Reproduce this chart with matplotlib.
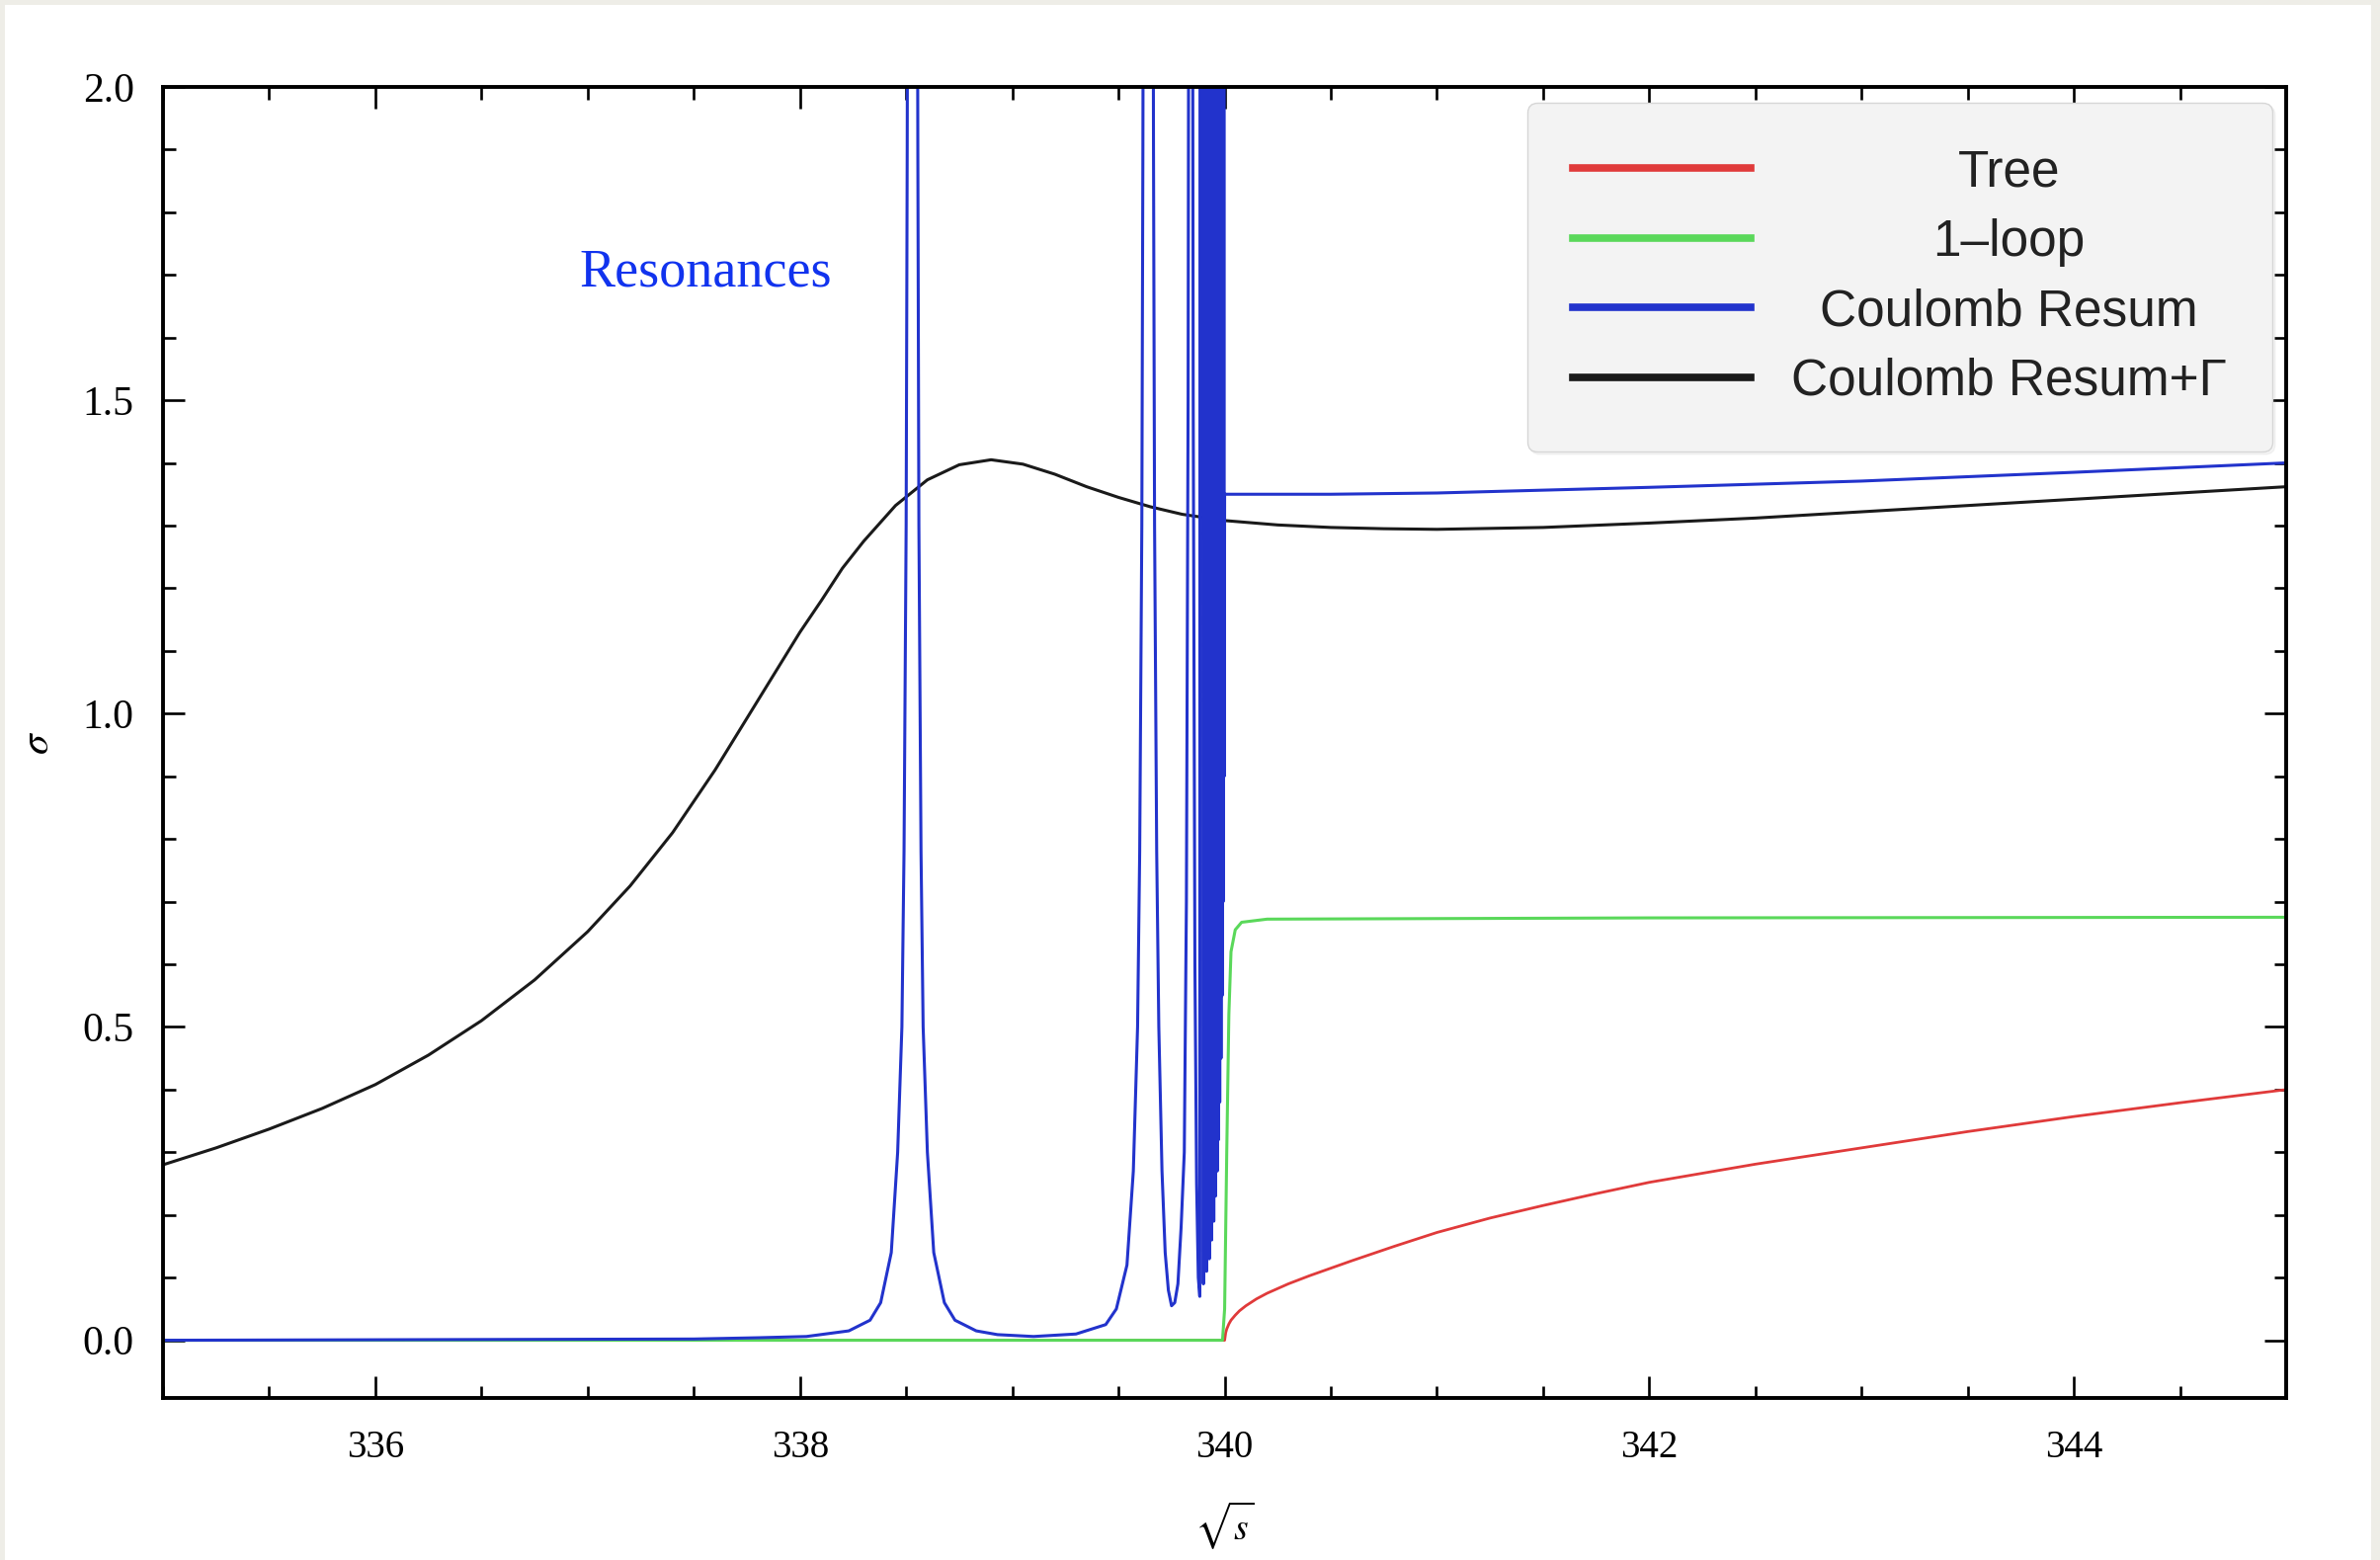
import matplotlib
matplotlib.use("Agg")
import matplotlib.pyplot as plt
from matplotlib.patches import Rectangle
from matplotlib.ticker import MultipleLocator

# sqrt(s) grid and cross sections
tree_x = [335.0, 340.0, 340.005, 340.01, 340.02, 340.03, 340.05, 340.07, 340.1, 340.15, 340.2,
          340.3, 340.4, 340.5, 340.6, 340.8, 341.0, 341.25, 341.5, 341.75, 342.0, 342.5,
          343.0, 343.5, 344.0, 344.5, 345.0]
tree_y = [0.0, 0.0, 0.012, 0.018, 0.026, 0.032, 0.04, 0.047, 0.055, 0.066, 0.075,
          0.09, 0.103, 0.115, 0.127, 0.15, 0.172, 0.195, 0.215, 0.234, 0.252, 0.281,
          0.307, 0.333, 0.357, 0.379, 0.40]

loop_x = [335.0, 339.99, 340.0, 340.01, 340.02, 340.03, 340.05, 340.08, 340.2, 342.0, 345.0]
loop_y = [0.0, 0.0, 0.05, 0.3, 0.52, 0.62, 0.655, 0.667, 0.672, 0.674, 0.675]

resum_x = [335.0, 337.5, 337.8, 338.03, 338.23, 338.33, 338.38, 338.43, 338.46, 338.48, 338.49,
           338.50, 338.505, 338.51, 338.52, 338.53, 338.54, 338.55, 338.555, 338.56, 338.57,
           338.58, 338.60, 338.63, 338.68, 338.73, 338.83, 338.93, 339.1, 339.3, 339.44,
           339.49, 339.54, 339.57, 339.59, 339.60, 339.61, 339.615, 339.62, 339.63, 339.64,
           339.65, 339.66, 339.665, 339.67, 339.68, 339.69, 339.705, 339.72, 339.735, 339.75,
           339.765, 339.78, 339.795, 339.81, 339.82, 339.828, 339.834, 339.84, 339.846,
           339.852, 339.86, 339.868, 339.876, 339.883,
           339.893, 339.900, 339.908, 339.915, 339.922, 339.928, 339.934, 339.939, 339.944,
           339.949, 339.953, 339.957, 339.961, 339.965, 339.968, 339.971, 339.974, 339.977,
           339.980, 339.983, 339.986, 339.988, 339.991, 339.993, 339.996, 339.998, 340.0,
           340.5, 341.0, 342.0, 343.0, 344.0, 345.0]
resum_y = [0.0, 0.002, 0.004, 0.006, 0.015, 0.032, 0.06, 0.14, 0.3, 0.5, 0.78,
           1.3, 1.9, 2.8, 8.0, 20.0, 8.0, 2.8, 1.9, 1.3, 0.78,
           0.5, 0.3, 0.14, 0.06, 0.032, 0.015, 0.009, 0.006, 0.01, 0.025,
           0.05, 0.12, 0.27, 0.5, 0.78, 1.3, 1.9, 2.8, 8.0, 20.0,
           8.0, 2.8, 1.9, 1.3, 0.78, 0.5, 0.27, 0.14, 0.08, 0.055,
           0.06, 0.09, 0.18, 0.3, 0.7, 1.5, 3.0, 20.0, 3.0,
           1.5, 0.6, 0.25, 0.1, 0.07,
           20.0, 0.09, 20.0, 0.11, 20.0, 0.13, 20.0, 0.16, 20.0,
           0.19, 20.0, 0.23, 20.0, 0.27, 20.0, 0.32, 20.0, 0.38,
           20.0, 0.45, 20.0, 0.55, 20.0, 0.7, 20.0, 0.9, 1.35,
           1.35, 1.352, 1.361, 1.371, 1.385, 1.40]

width_x = [335.0, 335.25, 335.5, 335.75, 336.0, 336.25, 336.5, 336.75, 337.0, 337.2, 337.4,
           337.6, 337.8, 337.9, 338.0, 338.1, 338.2, 338.3, 338.45, 338.6, 338.75, 338.9,
           339.05, 339.2, 339.35, 339.5, 339.65, 339.8, 340.0, 340.25, 340.5, 340.75, 341.0,
           341.5, 342.0, 342.5, 343.0, 343.5, 344.0, 344.5, 345.0]
width_y = [0.28, 0.307, 0.337, 0.37, 0.408, 0.455, 0.51, 0.575, 0.652, 0.725, 0.81,
           0.91, 1.02, 1.075, 1.13, 1.18, 1.232, 1.275, 1.332, 1.373, 1.397, 1.405,
           1.398, 1.382, 1.362, 1.345, 1.33, 1.318, 1.308, 1.301, 1.297, 1.295, 1.294,
           1.297, 1.304, 1.312, 1.322, 1.332, 1.342, 1.352, 1.362]

labels = ["Tree", "1\u2013loop", "Coulomb Resum", "Coulomb Resum+\u0393"]
colors = ["#e03a3a", "#5ad85a", "#2233cc", "#1a1a1a"]

plt.rcParams['mathtext.fontset'] = 'stix'

fig = plt.figure(figsize=(24.09, 15.79), dpi=100)
fig.patch.set_facecolor("#eeede7")
fig.patches.append(Rectangle((5 / 2409, 0), 2395 / 2409, 1 - 5 / 1579,
                             transform=fig.transFigure, facecolor="white",
                             edgecolor="none", zorder=-10))

ax = fig.add_axes([0.0685, 0.1039, 0.8921, 0.8404])
ax.set_facecolor("white")

l_black, = ax.plot(width_x, width_y, color=colors[3], lw=2.2)
l_red, = ax.plot(tree_x, tree_y, color=colors[0], lw=2.0)
l_green, = ax.plot(loop_x, loop_y, color=colors[1], lw=2.2)
l_blue, = ax.plot(resum_x, resum_y, color=colors[2], lw=2.2)

ax.set_xlim(335, 345)
ax.set_ylim(-0.092, 2.0)
ax.xaxis.set_major_locator(MultipleLocator(2))
ax.xaxis.set_minor_locator(MultipleLocator(0.5))
ax.yaxis.set_major_locator(MultipleLocator(0.5))
ax.yaxis.set_minor_locator(MultipleLocator(0.1))
ax.tick_params(which="both", direction="in", top=True, right=True, width=1.9)
ax.tick_params(which="major", length=16)
ax.tick_params(which="minor", length=9)
ax.tick_params(axis="x", which="major", labelsize=28, pad=23)
ax.tick_params(axis="y", which="major", labelsize=30, pad=21)
for lab in ax.get_xticklabels() + ax.get_yticklabels():
    lab.set_family("Liberation Serif")
for sp in ax.spines.values():
    sp.set_linewidth(2.8)

ax.set_xlabel(r"$\sqrt{s}$", fontsize=27)
ax.xaxis.set_label_coords(0.5, -0.077)
ax.set_ylabel(r"$\sigma$", fontsize=30)
ax.yaxis.set_label_coords(-0.05, 0.5)

ax.text(0.2555, 0.858, "Resonances", transform=ax.transAxes, ha="center", va="center",
        color="#1133ee", fontsize=39, family="Liberation Serif")

leg = ax.legend([l_red, l_green, l_blue, l_black], labels, loc="upper right",
                bbox_to_anchor=(0.9935, 0.988), borderaxespad=0, fancybox=True,
                shadow={"ox": 2, "oy": -2, "alpha": 0.08, "color": "gray"},
                facecolor="#f3f3f3", edgecolor="#d6d6d6", framealpha=1,
                prop={"family": "Liberation Sans", "size": 37},
                handlelength=3.5, handletextpad=0.8, borderpad=0.9, labelspacing=0.42)
for ln in leg.get_lines():
    ln.set_linewidth(5.5)
for t in leg.get_texts():
    t.set_color("#222222")

# center the legend labels in their column
fig.canvas.draw()
texts = leg.get_texts()
widths = [t.get_window_extent().width for t in texts]
for t, w in zip(texts, widths):
    t.set_x((max(widths) - w) / 2)

fig.savefig("out.png", dpi=100, facecolor=fig.get_facecolor())
